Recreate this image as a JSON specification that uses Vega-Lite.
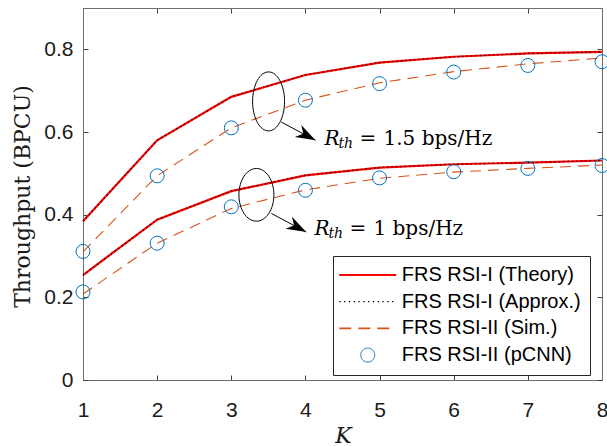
{
  "$schema": "https://vega.github.io/schema/vega-lite/v6.json",
  "width": 519,
  "height": 372,
  "autosize": "none",
  "padding": {"left": 83, "top": 8, "right": 5, "bottom": 66},
  "background": "white",
  "config": {
    "view": {"stroke": null},
    "axis": {
      "domainColor": "#6e6e6e",
      "tickColor": "#404040",
      "labelColor": "#262626",
      "labelFont": "Liberation Sans",
      "labelFontSize": 21,
      "grid": false,
      "tickSize": -5,
      "domainWidth": 1,
      "tickWidth": 1,
      "titleColor": "#262626",
      "labelFlush": false
    }
  },
  "datasets": {
    "curves": [
      {"K": 1, "v": 0.384, "s": "FRS RSI-I (Theory)", "r": "1.5"},
      {"K": 2, "v": 0.58, "s": "FRS RSI-I (Theory)", "r": "1.5"},
      {"K": 3, "v": 0.685, "s": "FRS RSI-I (Theory)", "r": "1.5"},
      {"K": 4, "v": 0.738, "s": "FRS RSI-I (Theory)", "r": "1.5"},
      {"K": 5, "v": 0.768, "s": "FRS RSI-I (Theory)", "r": "1.5"},
      {"K": 6, "v": 0.782, "s": "FRS RSI-I (Theory)", "r": "1.5"},
      {"K": 7, "v": 0.79, "s": "FRS RSI-I (Theory)", "r": "1.5"},
      {"K": 8, "v": 0.794, "s": "FRS RSI-I (Theory)", "r": "1.5"},
      {"K": 1, "v": 0.254, "s": "FRS RSI-I (Theory)", "r": "1"},
      {"K": 2, "v": 0.388, "s": "FRS RSI-I (Theory)", "r": "1"},
      {"K": 3, "v": 0.457, "s": "FRS RSI-I (Theory)", "r": "1"},
      {"K": 4, "v": 0.495, "s": "FRS RSI-I (Theory)", "r": "1"},
      {"K": 5, "v": 0.514, "s": "FRS RSI-I (Theory)", "r": "1"},
      {"K": 6, "v": 0.522, "s": "FRS RSI-I (Theory)", "r": "1"},
      {"K": 7, "v": 0.526, "s": "FRS RSI-I (Theory)", "r": "1"},
      {"K": 8, "v": 0.531, "s": "FRS RSI-I (Theory)", "r": "1"},
      {"K": 1, "v": 0.384, "s": "FRS RSI-I (Approx.)", "r": "1.5"},
      {"K": 2, "v": 0.58, "s": "FRS RSI-I (Approx.)", "r": "1.5"},
      {"K": 3, "v": 0.685, "s": "FRS RSI-I (Approx.)", "r": "1.5"},
      {"K": 4, "v": 0.738, "s": "FRS RSI-I (Approx.)", "r": "1.5"},
      {"K": 5, "v": 0.768, "s": "FRS RSI-I (Approx.)", "r": "1.5"},
      {"K": 6, "v": 0.782, "s": "FRS RSI-I (Approx.)", "r": "1.5"},
      {"K": 7, "v": 0.79, "s": "FRS RSI-I (Approx.)", "r": "1.5"},
      {"K": 8, "v": 0.794, "s": "FRS RSI-I (Approx.)", "r": "1.5"},
      {"K": 1, "v": 0.254, "s": "FRS RSI-I (Approx.)", "r": "1"},
      {"K": 2, "v": 0.388, "s": "FRS RSI-I (Approx.)", "r": "1"},
      {"K": 3, "v": 0.457, "s": "FRS RSI-I (Approx.)", "r": "1"},
      {"K": 4, "v": 0.495, "s": "FRS RSI-I (Approx.)", "r": "1"},
      {"K": 5, "v": 0.514, "s": "FRS RSI-I (Approx.)", "r": "1"},
      {"K": 6, "v": 0.522, "s": "FRS RSI-I (Approx.)", "r": "1"},
      {"K": 7, "v": 0.526, "s": "FRS RSI-I (Approx.)", "r": "1"},
      {"K": 8, "v": 0.531, "s": "FRS RSI-I (Approx.)", "r": "1"},
      {"K": 1, "v": 0.31, "s": "FRS RSI-II (Sim.)", "r": "1.5"},
      {"K": 2, "v": 0.494, "s": "FRS RSI-II (Sim.)", "r": "1.5"},
      {"K": 3, "v": 0.61, "s": "FRS RSI-II (Sim.)", "r": "1.5"},
      {"K": 4, "v": 0.677, "s": "FRS RSI-II (Sim.)", "r": "1.5"},
      {"K": 5, "v": 0.719, "s": "FRS RSI-II (Sim.)", "r": "1.5"},
      {"K": 6, "v": 0.746, "s": "FRS RSI-II (Sim.)", "r": "1.5"},
      {"K": 7, "v": 0.765, "s": "FRS RSI-II (Sim.)", "r": "1.5"},
      {"K": 8, "v": 0.779, "s": "FRS RSI-II (Sim.)", "r": "1.5"},
      {"K": 1, "v": 0.208, "s": "FRS RSI-II (Sim.)", "r": "1"},
      {"K": 2, "v": 0.331, "s": "FRS RSI-II (Sim.)", "r": "1"},
      {"K": 3, "v": 0.415, "s": "FRS RSI-II (Sim.)", "r": "1"},
      {"K": 4, "v": 0.46, "s": "FRS RSI-II (Sim.)", "r": "1"},
      {"K": 5, "v": 0.488, "s": "FRS RSI-II (Sim.)", "r": "1"},
      {"K": 6, "v": 0.503, "s": "FRS RSI-II (Sim.)", "r": "1"},
      {"K": 7, "v": 0.512, "s": "FRS RSI-II (Sim.)", "r": "1"},
      {"K": 8, "v": 0.52, "s": "FRS RSI-II (Sim.)", "r": "1"},
      {"K": 1, "v": 0.311, "s": "FRS RSI-II (pCNN)", "r": "1.5"},
      {"K": 2, "v": 0.494, "s": "FRS RSI-II (pCNN)", "r": "1.5"},
      {"K": 3, "v": 0.61, "s": "FRS RSI-II (pCNN)", "r": "1.5"},
      {"K": 4, "v": 0.677, "s": "FRS RSI-II (pCNN)", "r": "1.5"},
      {"K": 5, "v": 0.717, "s": "FRS RSI-II (pCNN)", "r": "1.5"},
      {"K": 6, "v": 0.745, "s": "FRS RSI-II (pCNN)", "r": "1.5"},
      {"K": 7, "v": 0.761, "s": "FRS RSI-II (pCNN)", "r": "1.5"},
      {"K": 8, "v": 0.77, "s": "FRS RSI-II (pCNN)", "r": "1.5"},
      {"K": 1, "v": 0.213, "s": "FRS RSI-II (pCNN)", "r": "1"},
      {"K": 2, "v": 0.331, "s": "FRS RSI-II (pCNN)", "r": "1"},
      {"K": 3, "v": 0.419, "s": "FRS RSI-II (pCNN)", "r": "1"},
      {"K": 4, "v": 0.459, "s": "FRS RSI-II (pCNN)", "r": "1"},
      {"K": 5, "v": 0.489, "s": "FRS RSI-II (pCNN)", "r": "1"},
      {"K": 6, "v": 0.504, "s": "FRS RSI-II (pCNN)", "r": "1"},
      {"K": 7, "v": 0.512, "s": "FRS RSI-II (pCNN)", "r": "1"},
      {"K": 8, "v": 0.519, "s": "FRS RSI-II (pCNN)", "r": "1"}
    ],
    "ann": [
      {"rth": "1.5", "ex": 3.503, "ey": 0.674, "ax": 3.674, "ay": 0.624, "tx": 4.136, "ty": 0.58, "lx": 4.257, "ly": 0.568, "rate": "1.5 bps/Hz"},
      {"rth": "1", "ex": 3.339, "ey": 0.448, "ax": 3.54, "ay": 0.403, "tx": 4.011, "ty": 0.358, "lx": 4.122, "ly": 0.35, "rate": "1 bps/Hz"}
    ]
  },
  "resolve": {"axis": {"x": "independent", "y": "independent"}},
  "layer": [
    {
      "data": {"name": "curves"},
      "transform": [{"filter": "datum.s === 'FRS RSI-II (Sim.)'"}],
      "mark": {"type": "line", "strokeWidth": 1.1, "strokeDash": [11, 7]},
      "encoding": {
        "x": {"field": "K", "type": "quantitative", "scale": {"domain": [1, 8], "nice": false, "zero": false},
          "axis": {"values": [1, 2, 3, 4, 5, 6, 7, 8], "title": "K", "titleFont": "DejaVu Serif", "titleFontStyle": "italic", "titleFontWeight": "normal", "titleFontSize": 22, "titleColor": "#1a1a1a", "labelColor": "#1a1a1a", "titleX": 260, "titleY": 55, "titleBaseline": "middle", "titleAlign": "center", "labelPadding": 24}},
        "y": {"field": "v", "type": "quantitative", "scale": {"domain": [0, 0.9], "nice": false},
          "axis": {"values": [0, 0.2, 0.4, 0.6, 0.8], "format": ".1~f", "title": "Throughput (BPCU)", "titleFont": "DejaVu Serif", "titleFontWeight": "normal", "titleFontSize": 22, "titleColor": "#1a1a1a", "labelColor": "#1a1a1a", "titleX": -61, "titleY": 188, "titleAngle": -90, "titleAlign": "center", "titleBaseline": "middle", "labelPadding": 15}},
        "color": {"field": "s", "type": "nominal",
          "scale": {"domain": ["FRS RSI-I (Theory)", "FRS RSI-I (Approx.)", "FRS RSI-II (Sim.)", "FRS RSI-II (pCNN)"], "range": ["#FF0000", "#000000", "#D95319", "#0072BD"]},
          "legend": {
            "title": null, "orient": "none", "legendX": 250, "legendY": 248, "padding": 9,
            "strokeColor": "#262626", "fillColor": "white",
            "labelFont": "Liberation Sans", "labelFontSize": 20, "labelColor": "#000000", "labelLimit": 400,
            "symbolSize": 196, "symbolOffset": 15.75, "labelOffset": 24, "rowPadding": 6.7, "symbolType": "circle",
            "encode": {
              "symbols": {
                "update": {
                  "shape": {"signal": "datum.value === 'FRS RSI-II (pCNN)' ? 'circle' : 'M -4.07 0 L 4.07 0'"},
                  "fill": {"value": "transparent"},
                  "stroke": {"signal": "scale('color', datum.value)"},
                  "strokeWidth": {"signal": "datum.value === 'FRS RSI-I (Theory)' ? 2 : datum.value === 'FRS RSI-I (Approx.)' ? 1.3 : datum.value === 'FRS RSI-II (Sim.)' ? 1.6 : 1"},
                  "strokeDash": {"signal": "datum.value === 'FRS RSI-I (Approx.)' ? [1.3, 3.5] : datum.value === 'FRS RSI-II (Sim.)' ? [12, 7] : [1, 0]"},
                  "opacity": {"value": 1}
                }
              }
            }
          }},
        "detail": {"field": "r"}
      }
    },
    {
      "data": {"name": "curves"},
      "transform": [{"filter": "datum.s === 'FRS RSI-I (Theory)'"}],
      "mark": {"type": "line", "strokeWidth": 2.2},
      "encoding": {
        "x": {"field": "K", "type": "quantitative", "axis": null},
        "y": {"field": "v", "type": "quantitative", "axis": null},
        "color": {"field": "s", "type": "nominal"},
        "detail": {"field": "r"}
      }
    },
    {
      "data": {"name": "curves"},
      "transform": [{"filter": "datum.s === 'FRS RSI-I (Approx.)'"}],
      "mark": {"type": "line", "strokeWidth": 1.2, "strokeDash": [1.2, 3.2]},
      "encoding": {
        "x": {"field": "K", "type": "quantitative", "axis": null},
        "y": {"field": "v", "type": "quantitative", "axis": null},
        "color": {"field": "s", "type": "nominal"},
        "detail": {"field": "r"}
      }
    },
    {
      "data": {"name": "curves"},
      "transform": [{"filter": "datum.s === 'FRS RSI-II (pCNN)'"}],
      "mark": {"type": "point", "shape": "circle", "filled": false, "size": 196, "strokeWidth": 1, "opacity": 1},
      "encoding": {
        "x": {"field": "K", "type": "quantitative", "axis": null},
        "y": {"field": "v", "type": "quantitative", "axis": null},
        "color": {"field": "s", "type": "nominal"}
      }
    },
    {
      "data": {"name": "ann"},
      "transform": [{"filter": "datum.rth === '1.5'"}],
      "mark": {"type": "point", "shape": "M 0.542 0 A 0.542 1 0 1 1 -0.542 0 A 0.542 1 0 1 1 0.542 0 Z", "size": 3481, "filled": false, "color": "#000000", "strokeWidth": 1, "opacity": 1},
      "encoding": {
        "x": {"field": "ex", "type": "quantitative", "axis": {"orient": "top", "labels": false, "title": null, "values": [1, 2, 3, 4, 5, 6, 7, 8]}},
        "y": {"field": "ey", "type": "quantitative", "axis": {"orient": "right", "labels": false, "title": null, "values": [0, 0.2, 0.4, 0.6, 0.8]}}
      }
    },
    {
      "data": {"name": "ann"},
      "transform": [{"filter": "datum.rth === '1'"}],
      "mark": {"type": "point", "shape": "M 0.664 0 A 0.664 1 0 1 1 -0.664 0 A 0.664 1 0 1 1 0.664 0 Z", "size": 2777, "filled": false, "color": "#000000", "strokeWidth": 1, "opacity": 1},
      "encoding": {
        "x": {"field": "ex", "type": "quantitative", "axis": null},
        "y": {"field": "ey", "type": "quantitative", "axis": null}
      }
    },
    {
      "data": {"name": "ann"},
      "mark": {"type": "rule", "color": "#000000", "strokeWidth": 1},
      "encoding": {
        "x": {"field": "ax", "type": "quantitative", "axis": null},
        "y": {"field": "ay", "type": "quantitative", "axis": null},
        "x2": {"field": "tx"},
        "y2": {"field": "ty"}
      }
    },
    {
      "data": {"name": "ann"},
      "mark": {"type": "point", "shape": "M 0 0 L -1.8 -0.62 L -1.25 0 L -1.8 0.62 Z", "size": 484, "filled": true, "color": "#000000", "angle": 28, "opacity": 1},
      "encoding": {
        "x": {"field": "tx", "type": "quantitative", "axis": null},
        "y": {"field": "ty", "type": "quantitative", "axis": null}
      }
    },
    {
      "data": {"name": "ann"},
      "mark": {"type": "text", "text": "R", "font": "DejaVu Serif", "fontStyle": "italic", "fontSize": 20, "align": "left", "baseline": "alphabetic", "color": "#000000"},
      "encoding": {
        "x": {"field": "lx", "type": "quantitative", "axis": null},
        "y": {"field": "ly", "type": "quantitative", "axis": null}
      }
    },
    {
      "data": {"name": "ann"},
      "mark": {"type": "text", "text": "th", "font": "DejaVu Serif", "fontStyle": "italic", "fontSize": 14, "align": "left", "baseline": "alphabetic", "dx": 14, "dy": 3, "color": "#000000"},
      "encoding": {
        "x": {"field": "lx", "type": "quantitative", "axis": null},
        "y": {"field": "ly", "type": "quantitative", "axis": null}
      }
    },
    {
      "data": {"name": "ann"},
      "mark": {"type": "text", "text": "=", "font": "DejaVu Serif", "fontSize": 20, "align": "left", "baseline": "alphabetic", "dx": 35, "color": "#000000"},
      "encoding": {
        "x": {"field": "lx", "type": "quantitative", "axis": null},
        "y": {"field": "ly", "type": "quantitative", "axis": null}
      }
    },
    {
      "data": {"name": "ann"},
      "mark": {"type": "text", "font": "DejaVu Serif", "fontSize": 20, "align": "left", "baseline": "alphabetic", "dx": 59, "color": "#000000"},
      "encoding": {
        "x": {"field": "lx", "type": "quantitative", "axis": null},
        "y": {"field": "ly", "type": "quantitative", "axis": null},
        "text": {"field": "rate"}
      }
    }
  ]
}
